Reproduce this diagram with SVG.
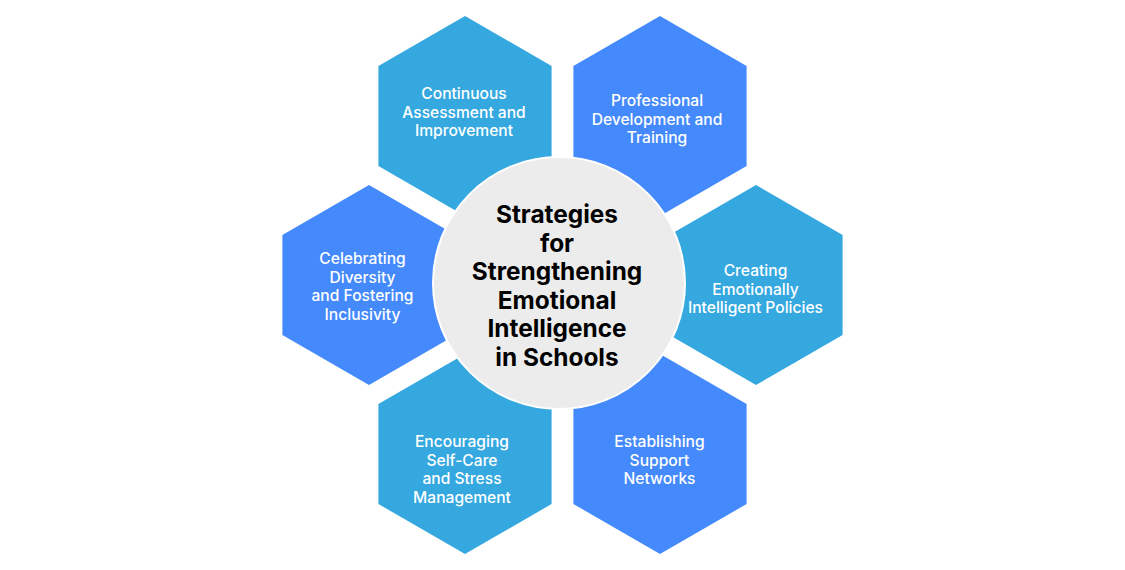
<svg xmlns="http://www.w3.org/2000/svg" width="1125" height="570" viewBox="0 0 1125 570">
<style>
.hl{fill:#35A8DF}
.hb{fill:#458AFC}
.t{font-family:Inter,"Noto Sans",sans-serif;font-size:15.6px;font-weight:500;fill:#FFFFFF;text-anchor:middle}
.c{font-family:Inter,"Noto Sans",sans-serif;font-size:24.4px;font-weight:700;fill:#000000;text-anchor:middle}
</style>
<rect width="1125" height="570" fill="#FFFFFF"/>
<g id="connectors"></g>
<g id="hex-continuous">
<polygon class="hl" points="465,16 551.6,66 551.6,166 465,216 378.4,166 378.4,66"/>
<text class="t"><tspan x="464" y="99">Continuous</tspan><tspan x="464" y="117.5">Assessment and</tspan><tspan x="464" y="136">Improvement</tspan></text>
</g>
<g id="hex-professional">
<polygon class="hb" points="660,16 746.6,66 746.6,166 660,216 573.4,166 573.4,66"/>
<text class="t"><tspan x="657" y="106">Professional</tspan><tspan x="657" y="124.5">Development and</tspan><tspan x="657" y="143">Training</tspan></text>
</g>
<g id="hex-celebrating">
<polygon class="hb" points="369,185 455.6,235 455.6,335 369,385 282.4,335 282.4,235"/>
<text class="t"><tspan x="362.5" y="264">Celebrating</tspan><tspan x="362.5" y="282.5">Diversity</tspan><tspan x="362.5" y="301">and Fostering</tspan><tspan x="362.5" y="319.5">Inclusivity</tspan></text>
</g>
<g id="hex-creating">
<polygon class="hl" points="756,185 842.6,235 842.6,335 756,385 669.4,335 669.4,235"/>
<text class="t"><tspan x="755.5" y="276">Creating</tspan><tspan x="755.5" y="294.5">Emotionally</tspan><tspan x="755.5" y="313">Intelligent Policies</tspan></text>
</g>
<g id="hex-encouraging">
<polygon class="hl" points="465,354 551.6,404 551.6,504 465,554 378.4,504 378.4,404"/>
<text class="t"><tspan x="462" y="447">Encouraging</tspan><tspan x="462" y="465.5">Self-Care</tspan><tspan x="462" y="484">and Stress</tspan><tspan x="462" y="502.5">Management</tspan></text>
</g>
<g id="hex-establishing">
<polygon class="hb" points="660,354 746.6,404 746.6,504 660,554 573.4,504 573.4,404"/>
<text class="t"><tspan x="659.5" y="447">Establishing</tspan><tspan x="659.5" y="465.5">Support</tspan><tspan x="659.5" y="484">Networks</tspan></text>
</g>
<g id="center">
<circle cx="559" cy="283" r="126" fill="#ECECEC" stroke="#FFFFFF" stroke-width="2"/>
<text class="c"><tspan x="557" y="223">Strategies</tspan><tspan x="557" y="251.5">for</tspan><tspan x="557" y="280">Strengthening</tspan><tspan x="557" y="308.5">Emotional</tspan><tspan x="557" y="337">Intelligence</tspan><tspan x="557" y="365.5">in Schools</tspan></text>
</g>
</svg>
